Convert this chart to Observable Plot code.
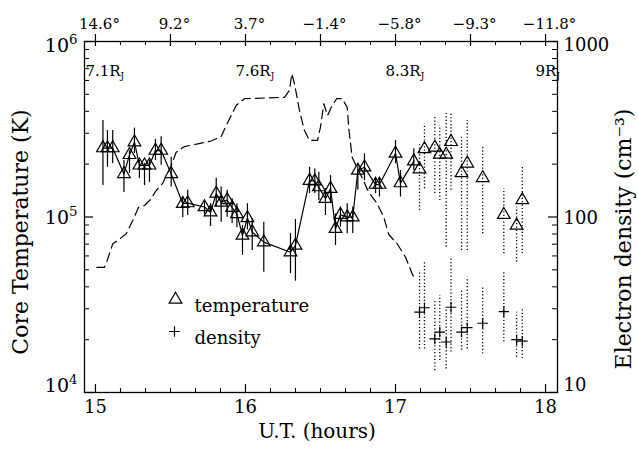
<!DOCTYPE html>
<html>
<head>
<meta charset="utf-8">
<script src="https://cdn.jsdelivr.net/npm/d3@7"></script>
<script src="https://cdn.jsdelivr.net/npm/@observablehq/plot@0.6"></script>
<style>
  body { margin: 0; background: #fff; }
  #chart { width: 638px; height: 452px; }
</style>
</head>
<body>
<div id="chart"></div>
<script>
// ---- Temperature fits with solid error bars (connected) ----
const solidHours = [15.05, 15.08, 15.115, 15.19, 15.227, 15.26, 15.293, 15.327, 15.36, 15.40, 15.438, 15.505,
  15.582, 15.615, 15.727, 15.767, 15.805, 15.838, 15.878, 15.911, 15.943, 15.98, 16.013, 16.045, 16.122,
  16.30, 16.333, 16.427, 16.462, 16.489, 16.533, 16.567, 16.60, 16.633, 16.678, 16.715, 16.749, 16.793,
  16.867, 16.893, 17.0, 17.033, 17.122];
const solidTemp = [247, 247, 247, 176, 226, 267, 197, 197, 197, 239, 239, 176,
  119, 120, 114, 106.5, 136, 121, 125, 113, 104, 78.5, 98.7, 82, 71.9,
  63, 68.8, 161, 160, 148, 127, 145, 85.7, 103, 99.7, 99.7, 184, 192,
  153, 153, 230, 156, 208];            // thousands of K
const solidTempLow = [151, 192, 202, 138, 177, 230, 166, 151, 157, 210, 197, 148,
  99, 102, 103, 88.3, 114, 93.3, 99.7, 91.8, 86.8, 60.4, 84.5, 64.4, 48.5,
  47.6, 43.1, 136, 136, 124, 102, 119, 68.8, 87.5, 80.2, 80.5, 142, 161,
  136, 130, 201, 130, 184];
const solidTempHigh = [355, 311, 311, 210, 239, 321, 210, 202, 210, 277, 287, 219,
  130, 142, 124, 119, 166, 148, 142, 127, 119, 89.5, 119, 98, 93.3,
  80.5, 96.8, 192, 188, 180, 145, 172, 104, 114, 119, 114, 202, 229,
  166, 166, 273, 184, 245];

// ---- Temperature fits with dotted error bars (unconnected) ----
const openHours = [17.16, 17.193, 17.262, 17.295, 17.338, 17.37, 17.44, 17.478, 17.581, 17.722, 17.807, 17.845];
const openTemp = [187, 244, 249, 227, 227, 268, 178, 202, 167, 103, 89.5, 125];
const openTempLow = [109, 145, 136, 124, 67.3, 142, 64.4, 64.4, 80.2, 61.7, 55.3, 61.7];
const openTempHigh = [261, 340, 370, 332, 396, 387, 291, 355, 250, 145, 114, 192];

// ---- Electron density fits (cm^-3) ----
const densHours = [17.16, 17.193, 17.262, 17.295, 17.338, 17.37, 17.44, 17.478, 17.581, 17.722, 17.807, 17.845];
const densValue = [28.7, 30.4, 20.2, 22.1, 19.4, 30.6, 22.1, 23.4, 24.8, 28.9, 20.0, 19.6];
const densLow = [17.7, 17.7, 13.3, 15.2, 13.6, 17.0, 17.4, 17.7, 16.6, 19.4, 15.9, 15.6];
const densHigh = [49.6, 55.3, 33.4, 35.7, 30.0, 57.8, 38.1, 45.4, 39.9, 49.6, 28.7, 30.0];

// ---- Model electron density along the trajectory (dashed) ----
const modelHours = [15.009, 15.06, 15.078, 15.115, 15.149, 15.205, 15.249, 15.287, 15.327, 15.371, 15.405,
  15.449, 15.505, 15.538, 15.593, 15.682, 15.771, 15.838, 15.882, 15.938, 15.993, 16.26, 16.293,
  16.309, 16.327, 16.36, 16.393, 16.427, 16.48, 16.5, 16.522, 16.547, 16.571, 16.607, 16.645,
  16.678, 16.69, 16.711, 16.74, 16.771, 16.822, 16.878, 16.922, 16.955, 17.011, 17.067, 17.111, 17.123];
const modelDensity = [51.7, 51.7, 56.5, 70.3, 73.5, 80.2, 95.5, 113.7, 116.3, 127, 141.6,
  156, 196.5, 234, 252, 261, 271, 287.5, 347, 432, 472, 481, 526,
  655, 574, 404, 311, 273, 273, 325, 442, 379, 421, 472, 472,
  422, 311, 219, 194, 172, 138, 119, 99.7, 79.5, 70.4, 59, 47.5, 45.2];

// ---- Axis ticks and labels ----
const hourTicks = [15, 16, 17, 18];
const angleTicks = [15, 15.5, 16, 16.5, 17, 17.5, 18];
const angleLabels = ["14.6°", "9.2°", "3.7°", "\u22121.4°", "\u22125.8°", "\u22129.3°", "\u221211.8°"];
const distTicks = [15, 16, 17, 18];
const distLabels = ["7.1", "7.6", "8.3", "9"];
const tempTicks = [1e4, 1e5, 1e6];
const densTicks = [10, 100, 1000];

// density axis (right) spans 10..1000 against 1e4..1e6 K on the left
const densToTemp = 1000;

const W = 638, H = 452, mT = 41, mB = 60, mL = 84, mR = 81;
const frameH = H - mT - mB, frameW = W - mL - mR;

const solid = solidHours.map((h, i) => ({h, t: solidTemp[i] * 1e3, lo: solidTempLow[i] * 1e3, hi: solidTempHigh[i] * 1e3}));
const open = openHours.map((h, i) => ({h, t: openTemp[i] * 1e3, lo: openTempLow[i] * 1e3, hi: openTempHigh[i] * 1e3}));
const dens = densHours.map((h, i) => ({h, t: densValue[i] * densToTemp, lo: densLow[i] * densToTemp, hi: densHigh[i] * densToTemp}));
const model = modelHours.map((h, i) => ({h, t: modelDensity[i] * densToTemp}));

// minor tick positions: every 10 minutes, and 2..9 within each decade
const minuteTicks = d3.range(0, 19).map(k => 15 + k / 6).filter(v => v <= 18.001);
const decadeMinor = [1e4, 1e5].flatMap(d => d3.range(2, 10).map(k => k * d));

const ink = "black";
const dotted = "1.2,2.2";
const triR = 4.7;    // open triangle, about 12px across
const plusR = 3.5;   // stroked plus, about 10px across

// per-decade vertical nudge for the axis numbers
const nudge = {4: -7, 5: 1, 6: 4};

const marks = [
  // ticks (inward)
  Plot.tickX(minuteTicks, {x: d => d, insetTop: frameH - 4, stroke: ink, strokeWidth: 1}),
  Plot.tickX(hourTicks, {x: d => d, insetTop: frameH - 8, stroke: ink, strokeWidth: 1.2}),
  Plot.tickX(minuteTicks, {x: d => d, insetBottom: frameH - 4, stroke: ink, strokeWidth: 1}),
  Plot.tickX(angleTicks, {x: d => d, insetTop: -7, insetBottom: frameH - 5, stroke: ink, strokeWidth: 1.2}),
  Plot.tickY(decadeMinor, {y: d => d, insetRight: frameW - 5, stroke: ink, strokeWidth: 1}),
  Plot.tickY(tempTicks, {y: d => d, insetRight: frameW - 9, stroke: ink, strokeWidth: 1.2}),
  Plot.tickY(decadeMinor, {y: d => d, insetLeft: frameW - 5, stroke: ink, strokeWidth: 1}),
  Plot.tickY(tempTicks, {y: d => d, insetLeft: frameW - 9, stroke: ink, strokeWidth: 1.2}),
  Plot.frame({stroke: ink, strokeWidth: 1.3}),

  // model density curve
  Plot.line(model, {x: "h", y: "t", stroke: ink, strokeWidth: 1.2, strokeDasharray: "9,5"}),

  // connected temperature series
  Plot.ruleX(solid, {x: "h", y1: "lo", y2: "hi", stroke: ink, strokeWidth: 1.2}),
  Plot.line(solid, {x: "h", y: "t", stroke: ink, strokeWidth: 1.2}),
  Plot.dot(solid, {x: "h", y: "t", symbol: "triangle", r: triR, fill: "none", stroke: ink, strokeWidth: 1.2}),

  // later temperature fits with dotted uncertainties
  Plot.ruleX(open, {x: "h", y1: "lo", y2: "hi", stroke: ink, strokeWidth: 1.3, strokeDasharray: dotted}),
  Plot.dot(open, {x: "h", y: "t", symbol: "triangle", r: triR, fill: "none", stroke: ink, strokeWidth: 1.2}),

  // density fits
  Plot.ruleX(dens, {x: "h", y1: "lo", y2: "hi", stroke: ink, strokeWidth: 1.3, strokeDasharray: dotted}),
  Plot.dot(dens, {x: "h", y: "t", symbol: "plus", r: plusR, stroke: ink, strokeWidth: 1.2}),

  // bottom tick labels
  Plot.text(hourTicks, {x: d => d, frameAnchor: "bottom", dy: 20, text: d => String(d), fontSize: 18}),
  // top angle labels
  Plot.text(angleTicks, {x: d => d, frameAnchor: "top", dy: -23, dx: 4, text: (d, i) => angleLabels[i], fontSize: 15}),
  // radial distance labels inside the frame
  Plot.text(distTicks, {x: d => d, frameAnchor: "top", dy: 24, dx: -10, textAnchor: "start",
    text: (d, i) => distLabels[i] + "R_J", fontSize: 15}),

  // axis titles
  Plot.text(["U.T. (hours)"], {frameAnchor: "bottom", dy: 45, dx: -4, fontSize: 20, textAnchor: "middle"}),
  Plot.text(["Core Temperature (K)"], {frameAnchor: "left", dx: -64, dy: 15, rotate: -90, fontSize: 22, textAnchor: "middle"}),
  Plot.text(["Electron density (cm\u207B\u00B3)"], {frameAnchor: "right", dx: 66, dy: 22, rotate: -90, fontSize: 22, textAnchor: "middle"}),

  // legend
  Plot.dot([0], {frameAnchor: "top-left", dx: 91, dy: 258, symbol: "triangle", r: triR, fill: "none", stroke: ink, strokeWidth: 1.2}),
  Plot.text(["temperature"], {frameAnchor: "top-left", dx: 110, dy: 258, textAnchor: "start", fontSize: 18}),
  Plot.dot([0], {frameAnchor: "top-left", dx: 90, dy: 290, symbol: "plus", r: plusR, stroke: ink, strokeWidth: 1.2}),
  Plot.text(["density"], {frameAnchor: "top-left", dx: 110, dy: 290, textAnchor: "start", fontSize: 18})
];

// left (temperature) and right (density) axis numbers
tempTicks.forEach((t, i) => {
  const e = Math.round(Math.log10(t));
  marks.push(Plot.text([t], {y: d => d, frameAnchor: "left", textAnchor: "end", dx: -7, dy: nudge[e],
    text: () => "10^" + e, fontSize: 19}));
  marks.push(Plot.text([densTicks[i] * densToTemp], {y: d => d, frameAnchor: "right", textAnchor: "start", dx: 6, dy: nudge[e],
    text: () => String(densTicks[i]), fontSize: 18}));
});

const svg = Plot.plot({
  width: W,
  height: H,
  marginTop: mT,
  marginBottom: mB,
  marginLeft: mL,
  marginRight: mR,
  x: {type: "linear", domain: [14.927, 18.0797], axis: null},
  y: {type: "log", domain: [1e4, 1e6], axis: null},
  style: {fontFamily: "'DejaVu Serif', serif", fontSize: "17px", background: "white", color: "black"},
  marks
});

// superscripts (10^n) and subscripts (R_J)
d3.select(svg).selectAll("text").each(function() {
  const s = this.textContent;
  let m = s.match(/^(.*)\^(.+)$/);
  if (m) {
    this.textContent = m[1];
    d3.select(this).append("tspan").attr("dy", "-0.6em").attr("font-size", "0.7em").text(m[2]);
    return;
  }
  m = s.match(/^(.*)_(.+)$/);
  if (m) {
    this.textContent = m[1];
    d3.select(this).append("tspan").attr("dy", "0.3em").attr("font-size", "0.6em").text(m[2]);
  }
});

document.getElementById("chart").appendChild(svg);
</script>
</body>
</html>
